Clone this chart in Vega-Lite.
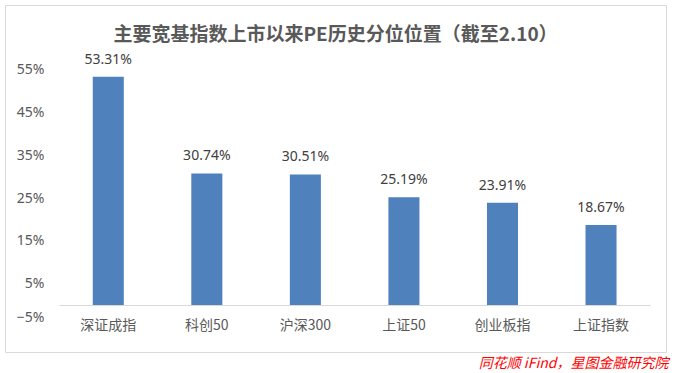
{
  "$schema": "https://vega.github.io/schema/vega-lite/v6.json",
  "autosize": "none",
  "padding": {"left": 5, "top": 5, "right": 8, "bottom": 21},
  "width": 661,
  "height": 347,
  "background": "white",
  "title": {
    "text": "主要宽基指数上市以来PE历史分位位置（截至2.10）",
    "font": "Noto Sans CJK SC",
    "fontSize": 19,
    "fontWeight": "bold",
    "color": "#595959",
    "anchor": "middle",
    "offset": -40
  },
  "data": {
    "values": [
      {"name": "深证成指", "value": 0.5331},
      {"name": "科创50", "value": 0.3074},
      {"name": "沪深300", "value": 0.3051},
      {"name": "上证50", "value": 0.2519},
      {"name": "创业板指", "value": 0.2391},
      {"name": "上证指数", "value": 0.1867}
    ]
  },
  "encoding": {
    "x": {
      "field": "name",
      "type": "nominal",
      "sort": null,
      "scale": {"range": [54, 645.3], "paddingInner": 0.685, "paddingOuter": 0.3425},
      "axis": {
        "orient": "bottom",
        "offset": -47,
        "labelAngle": 0,
        "labelFont": "Noto Sans CJK SC",
        "labelFontSize": 14,
        "labelColor": "#595959",
        "labelPadding": 13,
        "ticks": false,
        "domainColor": "#d9d9d9",
        "domainWidth": 1,
        "title": "同花顺 iFind，星图金融研究院",
        "titleFont": "Noto Sans CJK SC",
        "titleFontSize": 14,
        "titleFontWeight": "normal",
        "titleFontStyle": "italic",
        "titleColor": "#ff0000",
        "titleX": 663,
        "titleY": 62,
        "titleAlign": "right",
        "titleBaseline": "alphabetic",
        "titleAnchor": "end"
      }
    },
    "y": {
      "field": "value",
      "type": "quantitative",
      "scale": {"domain": [-0.05, 0.55], "range": [321.4, 64.6], "nice": false, "zero": false},
      "axis": {
        "orient": "left",
        "offset": -41,
        "values": [-0.05, 0.05, 0.15, 0.25, 0.35, 0.45, 0.55],
        "format": ".0%",
        "grid": false,
        "domain": false,
        "ticks": false,
        "labelPadding": 2,
        "labelOffset": {"condition": {"test": "datum.value < 0", "value": -9}, "value": 0},
        "labelFont": "Noto Sans",
        "labelFontSize": 14,
        "labelColor": "#595959",
        "title": null
      }
    }
  },
  "layer": [
    {"mark": {"type": "bar", "color": "#4f81bd"}},
    {
      "mark": {"type": "text", "baseline": "bottom", "dy": -10, "font": "Noto Sans", "fontSize": 14, "color": "#404040"},
      "encoding": {"text": {"field": "value", "type": "quantitative", "format": ".2%"}}
    }
  ],
  "config": {
    "view": {"stroke": "#d9d9d9", "strokeWidth": 1}
  }
}
